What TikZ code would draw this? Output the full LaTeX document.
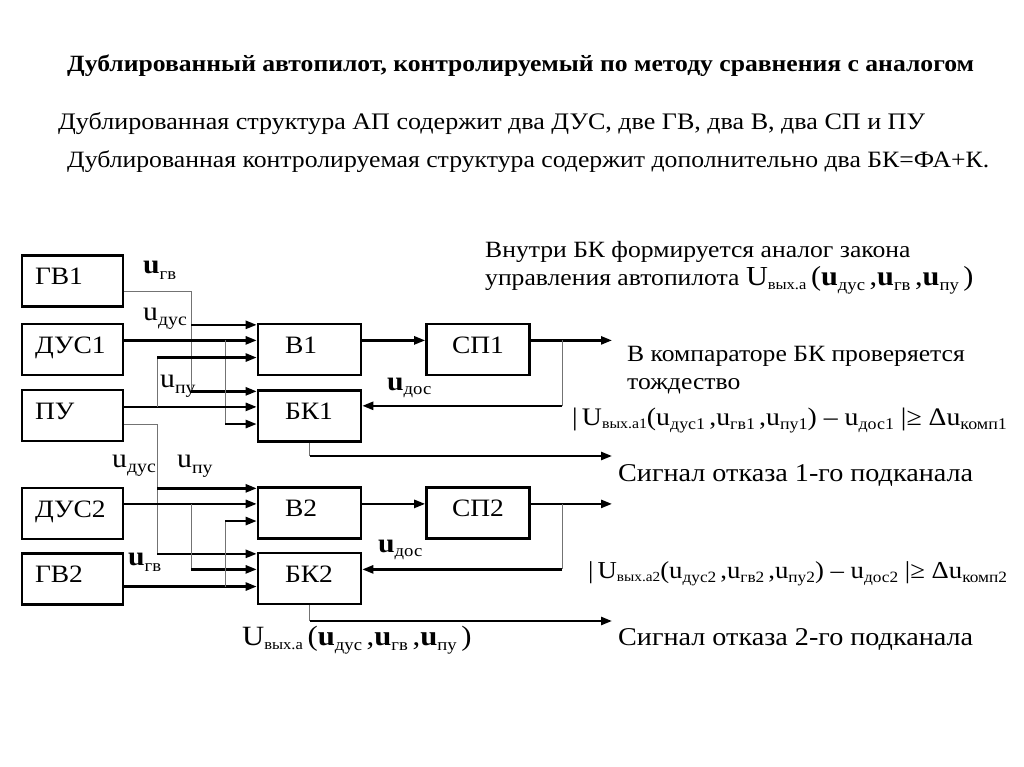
\documentclass[tikz,border=0pt]{standalone}
\usepackage{fontspec}
\setmainfont{Liberation Serif}[FakeStretch=1.1]
\usetikzlibrary{arrows.meta,calc}
\newcommand\fs[1]{\fontsize{#1}{#1}\selectfont}
\newcommand\sbx[3]{\raisebox{-#1pt}{\fs{#2}#3}}
\begin{document}
\begin{tikzpicture}[x=1pt,y=-1pt,
  blk/.style={draw, line width=2.6pt, minimum height=51pt, inner ysep=0pt, font=\fs{25}, text height=16.5pt, text depth=9pt},
  lft/.style={blk, inner xsep=13pt, text width=75pt, align=left},
  mid/.style={blk, inner xsep=27pt, text width=49pt, align=left},
  ctr/.style={blk, inner xsep=10pt, text width=83pt, align=center},
  thk/.style={line width=2.4pt},
  arr/.style={thk, -{Triangle[length=11pt,width=8pt]}},
  thn/.style={line width=1pt, black!55},
  txt/.style={inner sep=0pt, anchor=base west},
  lab/.style={txt, font=\fs{27}},
]
\useasboundingbox (0,0) rectangle (1024,767);

% texts
\node[txt, font=\fs{23.3}\bfseries] (title) at (67,72) {Дублированный автопилот, контролируемый по методу сравнения с аналогом};
\node[txt, font=\fs{23.7}] (l2) at (58,130) {Дублированная структура АП содержит два ДУС, две ГВ, два В, два СП и ПУ};
\node[txt, font=\fs{23.4}] (l3) at (67,168) {Дублированная контролируемая структура содержит дополнительно два БК=ФА+К.};
\node[txt, font=\fs{23.3}] (r1) at (485,258) {Внутри БК формируется аналог закона};
\node[txt, font=\fs{23.3}] (r2) at (485,285) {управления автопилота \fs{27.5}U\sbx{4}{15}{вых.а}\,(\textbf{u}\sbx{5}{17}{дус}\,,\textbf{u}\sbx{5}{17}{гв}\,,\textbf{u}\sbx{5}{17}{пу}\,)};
\node[txt, font=\fs{23.3}] (r3) at (627,361) {В компараторе БК проверяется};
\node[txt, font=\fs{23.3}] (r4) at (627,389) {тождество};
\node[txt, font=\fs{26.3}] (f1) at (572,425) {\scalebox{0.96}{|\,U\sbx{4}{15}{вых.а1}(u\sbx{5}{17}{дус1}\,,u\sbx{5}{17}{гв1}\,,u\sbx{5}{17}{пу1}) – u\sbx{5}{17}{дос1} |≥ Δu\sbx{5}{17}{комп1}}};
\node[txt, font=\fs{25.6}] (s1) at (618,481) {Сигнал отказа 1-го подканала};
\node[txt, font=\fs{26.3}] (f2) at (588,578) {\scalebox{0.925}{|\,U\sbx{4}{15}{вых.а2}(u\sbx{5}{17}{дус2}\,,u\sbx{5}{17}{гв2}\,,u\sbx{5}{17}{пу2}) – u\sbx{5}{17}{дос2} |≥ Δu\sbx{5}{17}{комп2}}};
\node[txt, font=\fs{25.6}] (s2) at (618,645) {Сигнал отказа 2-го подканала};
\node[txt, font=\fs{27.9}] (fb) at (242,645) {U\sbx{4}{15}{вых.а}\,(\textbf{u}\sbx{5}{17}{дус}\,,\textbf{u}\sbx{5}{17}{гв}\,,\textbf{u}\sbx{5}{17}{пу}\,)};

% signal labels
\node[lab] (ugv1) at (143,273) {\textbf{u}\sbx{6}{17}{гв}};
\node[lab] (udus1) at (143,320) {u\sbx{5}{18}{дус}};
\node[lab] (upu1) at (160,387) {u\sbx{6}{18}{пу}};
\node[lab] (udus2) at (112,467) {u\sbx{5}{18}{дус}};
\node[lab] (upu2) at (177,467) {u\sbx{6}{18}{пу}};
\node[lab] (ugv2) at (128,565) {\textbf{u}\sbx{6}{17}{гв}};
\node[lab] (udos1) at (387,390) {\textbf{u}\sbx{4}{17}{дос}};
\node[lab] (udos2) at (378,552) {\textbf{u}\sbx{4}{17}{дос}};

% blocks
\node[lft] (gv1) at (72.5,281) {ГВ1};
\node[lft] (dus1) at (72.5,349.5) {ДУС1};
\node[lft] (pu) at (72.5,415.5) {ПУ};
\node[lft] (dus2) at (72.5,513.5) {ДУС2};
\node[lft] (gv2) at (72.5,579) {ГВ2};
\node[mid] (b1) at (309.5,349.5) {В1};
\node[mid] (k1) at (309.5,416) {БК1};
\node[ctr] (sp1) at (478,349.5) {СП1};
\node[mid] (b2) at (309.5,513) {В2};
\node[mid] (k2) at (309.5,578.5) {БК2};
\node[ctr] (sp2) at (478,513) {СП2};

% input points
\foreach \n in {b1,k1,b2,k2}{
  \coordinate (\n i1) at ($(\n.north west)!0.04!(\n.south west)$);
  \coordinate (\n i2) at ($(\n.north west)!0.33!(\n.south west)$);
  \coordinate (\n i3) at ($(\n.north west)!0.65!(\n.south west)$);
}
\coordinate (gv1o) at ($(gv1.north east)!0.69!(gv1.south east)$);
\coordinate (b1o) at ($(b1.north east)!0.33!(b1.south east)$);
\coordinate (b2o) at ($(b2.north east)!0.33!(b2.south east)$);
\coordinate (k1f) at ($(k1.north east)!0.31!(k1.south east)$);
\coordinate (k2f) at ($(k2.north east)!0.33!(k2.south east)$);
\coordinate (cA) at (157,0);
\coordinate (cB) at (191,0);
\coordinate (cC) at (225,0);
\coordinate (cR) at (562,0);
\coordinate (out) at (612,0);
\coordinate (fail1) at (612,456);
\coordinate (fail2) at (612,621);

% channel 1 inputs
\draw[thn] (gv1o) -| (cB |- k1i1);
\draw[arr] (cB |- b1i1) -- (b1i1);
\draw[arr] (cB |- k1i1) -- (k1i1);
\draw[arr] (dus1.east |- b1i2) -- (b1i2);
\draw[thn] (cC |- b1i2) -- (cC |- k1i3);
\draw[arr] (cC |- k1i3) -- (k1i3);
\draw[arr] (pu.east |- k1i2) -- (k1i2);
\draw[thn] (cA |- k1i2) -- (cA |- b1i3);
\draw[arr] (cA |- b1i3) -- (b1i3);
% PU to channel 2
\draw[thn] (pu.east |- k1i3) -| (cA |- k2i1);
\draw[arr] (cA |- b2i1) -- (b2i1);
\draw[arr] (cA |- k2i1) -- (k2i1);
% channel 2 inputs
\draw[arr] (dus2.east |- b2i2) -- (b2i2);
\draw[thn] (cB |- b2i2) -- (cB |- k2i2);
\draw[arr] (cB |- k2i2) -- (k2i2);
\draw[arr] (gv2.east |- k2i3) -- (k2i3);
\draw[thn] (cC |- k2i3) -- (cC |- b2i3);
\draw[arr] (cC |- b2i3) -- (b2i3);

% right side channel 1
\draw[arr] (b1o) -- (sp1.west |- b1o);
\draw[arr] (sp1.east |- b1o) -- (out |- b1o);
\draw[thn] (cR |- b1o) -- (cR |- k1f);
\draw[arr] (cR |- k1f) -- (k1f);
\draw[thn] (k1.south) -- (k1.south |- fail1);
\draw[arr] (k1.south |- fail1) -- (fail1);
% right side channel 2
\draw[arr] (b2o) -- (sp2.west |- b2o);
\draw[arr] (sp2.east |- b2o) -- (out |- b2o);
\draw[thn] (cR |- b2o) -- (cR |- k2f);
\draw[arr] (cR |- k2f) -- (k2f);
\draw[thn] (k2.south) -- (k2.south |- fail2);
\draw[arr] (k2.south |- fail2) -- (fail2);
\end{tikzpicture}
\end{document}
